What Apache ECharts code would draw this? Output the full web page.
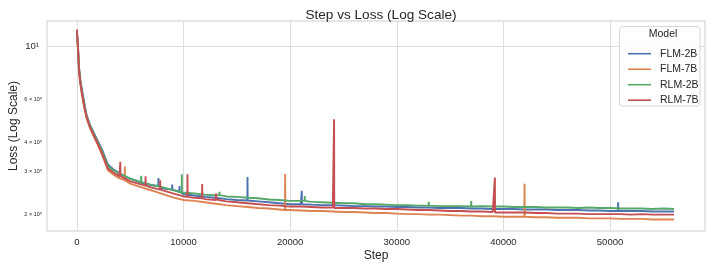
<!DOCTYPE html>
<html>
<head>
<meta charset="utf-8">
<script src="https://cdn.jsdelivr.net/npm/echarts@6/dist/echarts.min.js"></script>
<style>
html,body{margin:0;padding:0;background:#fff;}
#c{width:714px;height:268px;}
</style>
</head>
<body>
<div id="c"></div>
<script>
// ---- data ----
const seriesNames = ["FLM-2B", "FLM-7B", "RLM-2B", "RLM-7B"];
const steps = [0,100,200,300,400,500,700,900,1200,1600,2000,2400,2900,3400,4000,5000,6000,7000,8000,9000,
  10000,11000,12000,13000,14000,15000,16000,17000,18000,19000,
  20000,21000,22000,23000,24000,25000,26000,27000,28000,29000,
  30000,31000,32000,33000,34000,35000,36000,37000,38000,39000,
  40000,41000,42000,43000,44000,45000,46000,47000,48000,49000,
  50000,51000,52000,53000,54000,55000,56000];
const flm2b = [11.6,10.0,8.2,7.4,6.9,6.5,5.8,5.2,4.75,4.35,4.0,3.68,3.22,3.08,2.96,2.81,2.71,2.64,2.56,2.50,
  2.42,2.39,2.36,2.34,2.31,2.29,2.28,2.26,2.24,2.22,
  2.20,2.20,2.19,2.18,2.18,2.17,2.16,2.16,2.15,2.15,
  2.14,2.14,2.13,2.13,2.12,2.12,2.12,2.11,2.11,2.10,
  2.10,2.10,2.09,2.09,2.09,2.08,2.08,2.08,2.07,2.07,
  2.06,2.06,2.06,2.06,2.05,2.05,2.05];
const flm7b = [11.5,9.8,7.9,7.1,6.6,6.2,5.55,5.05,4.6,4.2,3.85,3.5,3.05,2.93,2.82,2.68,2.59,2.51,2.43,2.35,
  2.29,2.27,2.24,2.21,2.18,2.16,2.14,2.12,2.11,2.09,
  2.08,2.07,2.06,2.06,2.05,2.04,2.04,2.03,2.02,2.02,
  2.01,2.00,2.00,1.99,1.99,1.98,1.97,1.97,1.96,1.96,
  1.95,1.95,1.94,1.94,1.94,1.93,1.93,1.93,1.92,1.92,
  1.92,1.91,1.91,1.91,1.90,1.90,1.90];
const rlm2b = [11.6,9.9,8.1,7.3,6.8,6.4,5.7,5.15,4.7,4.3,3.95,3.62,3.17,3.05,2.95,2.81,2.72,2.65,2.59,2.52,
  2.45,2.44,2.41,2.40,2.37,2.36,2.34,2.33,2.30,2.29,
  2.27,2.27,2.25,2.24,2.23,2.22,2.22,2.20,2.20,2.19,
  2.18,2.18,2.17,2.17,2.16,2.16,2.16,2.15,2.16,2.15,
  2.15,2.14,2.14,2.14,2.13,2.13,2.13,2.12,2.13,2.12,
  2.12,2.11,2.11,2.11,2.10,2.11,2.10];
const rlm7b = [11.8,9.9,8.0,7.2,6.7,6.3,5.6,5.1,4.65,4.25,3.9,3.55,3.10,2.98,2.88,2.74,2.66,2.58,2.51,2.44,
  2.37,2.34,2.31,2.29,2.26,2.24,2.22,2.20,2.18,2.17,
  2.15,2.15,2.14,2.13,2.13,2.12,2.12,2.11,2.11,2.10,
  2.10,2.09,2.08,2.08,2.07,2.06,2.06,2.05,2.05,2.04,
  2.03,2.03,2.03,2.02,2.02,2.01,2.01,2.01,2.00,2.00,
  2.00,2.00,1.99,2.00,1.99,1.99,1.99];
// spikes: [step, base, peak]
const flm2bSpikes = [[7650,2.62,2.83],[8940,2.53,2.66],[9620,2.48,2.62],[16000,2.28,2.86],[21090,2.20,2.50],[50760,2.06,2.24]];
const flm7bSpikes = [[4500,2.77,3.16],[19530,2.08,2.94],[41980,1.95,2.68]];
const rlm2bSpikes = [[6030,2.72,2.89],[9840,2.46,2.93],[13370,2.40,2.48],[21370,2.27,2.38],[33000,2.17,2.25],[36980,2.15,2.27]];
const rlm7bSpikes = [[4070,2.88,3.31],[6440,2.63,2.88],[7810,2.53,2.77],[10370,2.36,2.93],[11750,2.33,2.67],[13060,2.30,2.44],[24120,2.12,4.98],[39200,2.03,2.84]];
const yLabelValues = [2, 3, 4, 6, 10];
const xLabelValues = [0, 10000, 20000, 30000, 40000, 50000];

const colors = ["#4c72b0", "#dd8452", "#55a868", "#c44e52"];
const TXT = "#262626";
const FONT = "'Liberation Sans', Arial, 'DejaVu Sans', sans-serif";

function build(vals, spikes) {
  const pts = steps.map((s, i) => [s, vals[i]]);
  spikes.forEach(sp => {
    pts.push([sp[0] - 15, sp[1]], [sp[0], sp[2]], [sp[0] + 15, sp[1]]);
  });
  pts.sort((a, b) => a[0] - b[0]);
  return pts;
}
const allVals = [flm2b, flm7b, rlm2b, rlm7b];
const allSpikes = [flm2bSpikes, flm7bSpikes, rlm2bSpikes, rlm7bSpikes];

const chart = echarts.init(document.getElementById('c'), null, {renderer: 'canvas'});
const sup = {"0": "\u2070", "1": "\u00b9"};
chart.setOption({
  animation: false,
  backgroundColor: '#ffffff',
  title: {
    text: 'Step vs Loss (Log Scale)',
    left: 376, top: 3, textAlign: 'center',
    textStyle: {fontFamily: FONT, fontSize: 13.6, fontWeight: 'normal', color: TXT}
  },
  grid: {left: 47, right: 9, top: 21, bottom: 37, show: true, borderColor: '#cccccc', borderWidth: 1,
         containLabel: false, outerBoundsMode: 'none'},
  xAxis: {
    type: 'value', min: -2805, max: 58905,
    name: 'Step', nameLocation: 'middle', nameGap: 19, nameMoveOverlap: false,
    nameTextStyle: {fontFamily: FONT, fontSize: 12, color: TXT},
    axisLine: {show: false}, axisTick: {show: false, customValues: xLabelValues},
    axisLabel: {customValues: xLabelValues, fontFamily: FONT, fontSize: 9.5, color: TXT, margin: 6,
      formatter: function (v) { return String(Math.round(v)); }},
    splitLine: {show: true, lineStyle: {color: '#dddddd', width: 1}}
  },
  yAxis: {
    type: 'log', logBase: 10, min: 1.70, max: 12.8,
    name: 'Loss (Log Scale)', nameLocation: 'middle', nameGap: 27, nameMoveOverlap: false,
    nameTextStyle: {fontFamily: FONT, fontSize: 12, color: TXT},
    axisLine: {show: false}, axisTick: {show: false, customValues: [10]},
    axisLabel: {
      customValues: yLabelValues, margin: 5, fontFamily: FONT, color: TXT,
      formatter: function (v) {
        const r = Math.round(v);
        if (r === 10) return '{big|10' + sup["1"] + '}';
        return '{small|' + r + ' \u00d7 10' + sup["0"] + '}';
      },
      rich: {
        big: {fontSize: 9.5, fontFamily: FONT, color: TXT, padding: [0, 3, 0, 0]},
        small: {fontSize: 5.5, fontFamily: FONT, color: TXT}
      }
    },
    splitLine: {show: true, lineStyle: {color: '#dddddd', width: 1}}
  },
  legend: {
    orient: 'vertical', left: 623, top: 42.7, z: 20,
    itemWidth: 23, itemHeight: 1.6, itemGap: 3.5, icon: 'rect',
    textStyle: {fontFamily: FONT, fontSize: 10.5, color: TXT, lineHeight: 12, padding: [0, 0, 0, 4]},
    data: seriesNames
  },
  graphic: [
    {type: 'rect', z: 15, shape: {x: 619.5, y: 26.5, width: 80.5, height: 79.5, r: 3},
     style: {fill: 'rgba(255,255,255,0.85)', stroke: '#d6d6d6', lineWidth: 1}},
    {type: 'text', z: 20, x: 663, y: 34, style: {text: 'Model', fontFamily: FONT, fontSize: 10.5, fill: TXT, textAlign: 'center', textVerticalAlign: 'middle'}}
  ],
  series: seriesNames.map((n, i) => ({
    name: n, type: 'line', showSymbol: false, symbol: 'none', sampling: null,
    color: colors[i],
    lineStyle: {width: 1.9, color: colors[i]},
    data: build(allVals[i], allSpikes[i])
  }))
});
</script>
</body>
</html>
